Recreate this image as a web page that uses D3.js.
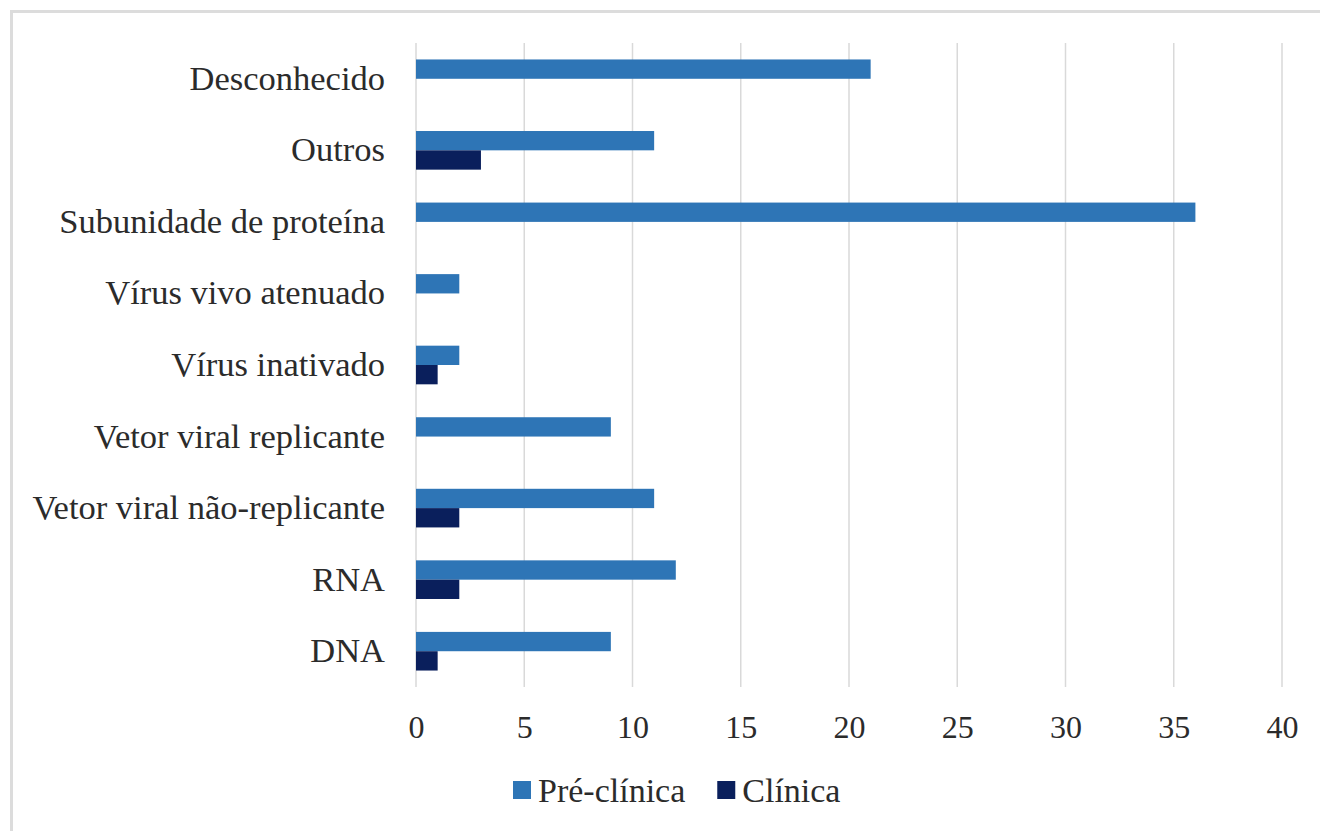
<!DOCTYPE html>
<html>
<head>
<meta charset="utf-8">
<script src="https://cdn.jsdelivr.net/npm/d3@7"></script>
<style>
  html, body { margin: 0; padding: 0; background: #ffffff; }
  svg { display: block; }
  text { font-family: "Liberation Serif", "Times New Roman", serif; fill: #2b2b2b; }
</style>
</head>
<body>
<svg id="chart" width="1320" height="831"></svg>
<script>
// Vaccine platforms, listed top to bottom
const categories = [
  "Desconhecido",
  "Outros",
  "Subunidade de proteína",
  "Vírus vivo atenuado",
  "Vírus inativado",
  "Vetor viral replicante",
  "Vetor viral não-replicante",
  "RNA",
  "DNA"
];
const seriesNames = ["Pré-clínica", "Clínica"];
const preClinica = [21, 11, 36, 2, 2, 9, 11, 12, 9];
const clinica    = [0, 3, 0, 0, 1, 0, 2, 2, 1];
const xTicks = [0, 5, 10, 15, 20, 25, 30, 35, 40];
const colors = ["#2E75B6", "#0A1F5C"];

const seriesValues = [preClinica, clinica];
const rows = categories.map((c, i) => ({
  category: c,
  values: seriesNames.map((s, j) => ({ series: s, value: seriesValues[j][i] }))
}));

const svg = d3.select("#chart");

// outer frame
svg.append("rect")
  .attr("x", 11.5).attr("y", 11.5)
  .attr("width", 1330).attr("height", 840)
  .attr("fill", "none")
  .attr("stroke", "#dcdcdc")
  .attr("stroke-width", 3);

const plot = { left: 416, right: 1282, top: 43, bottom: 687 };

const x = d3.scaleLinear().domain([0, 40]).range([plot.left, plot.right]);
const y = d3.scaleBand().domain(categories).range([plot.top, plot.bottom])
  .paddingInner(0.46).paddingOuter(0.23);
const ySub = d3.scaleBand().domain(seriesNames).range([0, y.bandwidth()]);
const color = d3.scaleOrdinal().domain(seriesNames).range(colors);

// vertical gridlines
svg.append("g").selectAll("line")
  .data(xTicks)
  .join("line")
  .attr("x1", d => x(d)).attr("x2", d => x(d))
  .attr("y1", plot.top).attr("y2", plot.bottom)
  .attr("stroke", "#d9d9d9")
  .attr("stroke-width", 1.5);

// bars
svg.append("g").selectAll("g")
  .data(rows)
  .join("g")
  .attr("transform", d => `translate(0,${y(d.category)})`)
  .selectAll("rect")
  .data(d => d.values.filter(v => v.value > 0))
  .join("rect")
  .attr("x", x(0))
  .attr("y", d => ySub(d.series))
  .attr("width", d => x(d.value) - x(0))
  .attr("height", ySub.bandwidth())
  .attr("fill", d => color(d.series));

// category labels
const yAxis = d3.axisLeft(y).tickSize(0).tickPadding(31);
const yg = svg.append("g").attr("transform", `translate(${plot.left},0)`).call(yAxis);
yg.select(".domain").remove();
yg.selectAll("text")
  .attr("font-family", "Liberation Serif, serif")
  .attr("font-size", 34.5)
  .attr("fill", "#2b2b2b");

// value axis labels
const xAxis = d3.axisBottom(x).tickValues(xTicks).tickSize(0).tickPadding(28);
const xg = svg.append("g").attr("transform", `translate(0,${plot.bottom})`).call(xAxis);
xg.select(".domain").remove();
xg.selectAll("text")
  .attr("font-family", "Liberation Serif, serif")
  .attr("font-size", 32)
  .attr("fill", "#2b2b2b");

// legend
const legend = svg.append("g").attr("transform", "translate(513,790)");
let cursor = 0;
seriesNames.forEach((s, i) => {
  const g = legend.append("g").attr("transform", `translate(${cursor},0)`);
  g.append("rect")
    .attr("x", 0).attr("y", -9)
    .attr("width", 18).attr("height", 18)
    .attr("fill", color(s));
  const t = g.append("text")
    .attr("x", 25).attr("y", 0)
    .attr("dy", "0.35em")
    .attr("font-size", 34)
    .attr("fill", "#2b2b2b")
    .text(s);
  cursor += 25 + t.node().getComputedTextLength() + 32;
});
</script>
</body>
</html>
